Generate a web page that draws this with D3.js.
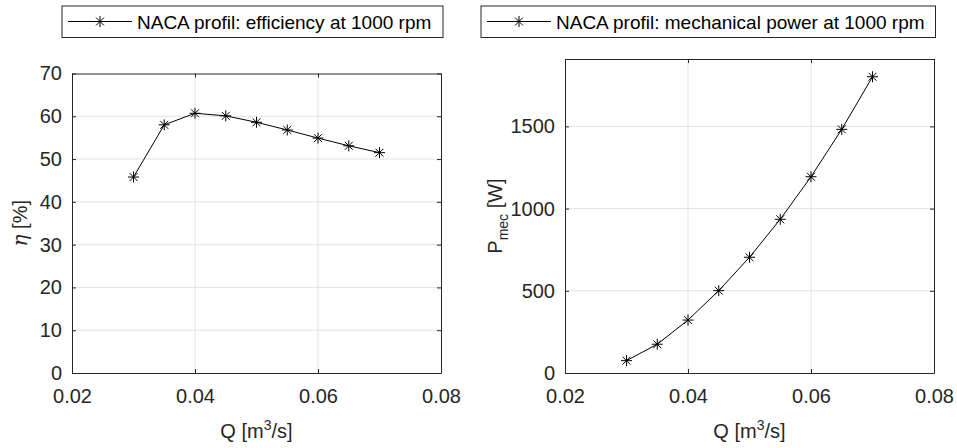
<!DOCTYPE html>
<html>
<head>
<meta charset="utf-8">
<script src="https://cdnjs.cloudflare.com/ajax/libs/d3/7.8.5/d3.min.js"></script>
<style>
  html, body { margin: 0; padding: 0; background: #fff; }
  svg { display: block; font-family: "Liberation Sans", Arial, sans-serif; }
</style>
</head>
<body>
<div id="chart"></div>
<script>
// flow rate Q [m^3/s]
const flowRate = [0.03, 0.035, 0.04, 0.045, 0.05, 0.055, 0.06, 0.065, 0.07];
// efficiency [%]
const efficiency = [45.8, 58.0, 60.7, 60.1, 58.6, 56.8, 54.9, 53.1, 51.5];
// mechanical power [W]
const mechPower = [75, 175, 322, 501, 704, 935, 1194, 1482, 1802];

const xTicks = [0.02, 0.04, 0.06, 0.08];
const etaTicks = [0, 10, 20, 30, 40, 50, 60, 70];
const powerTicks = [0, 500, 1000, 1500];

const legendLabels = [
  "NACA profil: efficiency at 1000 rpm",
  "NACA profil: mechanical power at 1000 rpm"
];

const W = 957, H = 448;
const ink = "#262626";

const svg = d3.select("#chart").append("svg")
  .attr("width", W).attr("height", H);

function asterisk(g, x, y, r) {
  const d = r * 0.72;
  const p = d3.path();
  p.moveTo(x - r, y); p.lineTo(x + r, y);
  p.moveTo(x, y - r); p.lineTo(x, y + r);
  p.moveTo(x - d, y - d); p.lineTo(x + d, y + d);
  p.moveTo(x - d, y + d); p.lineTo(x + d, y - d);
  g.append("path").attr("d", p.toString())
    .attr("stroke", "#000").attr("stroke-width", 1).attr("fill", "none");
}

function panel(opts) {
  const { left, right, top, bottom, yMax, yTicks, values, legend, yLabel } = opts;

  const x = d3.scaleLinear().domain([0.02, 0.08]).range([left, right]);
  const y = d3.scaleLinear().domain([0, yMax]).range([bottom, top]);
  const g = svg.append("g");

  // grid
  g.append("g").selectAll("line").data(xTicks.slice(1, -1)).join("line")
    .attr("x1", d => x(d)).attr("x2", d => x(d))
    .attr("y1", top).attr("y2", bottom)
    .attr("stroke", "#e3e3e3").attr("stroke-width", 1);
  g.append("g").selectAll("line").data(yTicks.filter(t => t > 0 && t < yMax)).join("line")
    .attr("x1", left).attr("x2", right)
    .attr("y1", d => y(d)).attr("y2", d => y(d))
    .attr("stroke", "#e3e3e3").attr("stroke-width", 1);

  // axes (ticks inward, box on)
  const tl = 4;
  const xb = d3.axisBottom(x).tickValues(xTicks).tickSizeInner(-tl).tickSizeOuter(0)
    .tickPadding(16).tickFormat(d3.format(".2f"));
  const xt = d3.axisTop(x).tickValues(xTicks).tickSizeInner(-tl).tickSizeOuter(0).tickFormat("");
  const yl = d3.axisLeft(y).tickValues(yTicks).tickSizeInner(-tl).tickSizeOuter(0)
    .tickPadding(10).tickFormat(d3.format("d"));
  const yr = d3.axisRight(y).tickValues(yTicks).tickSizeInner(-tl).tickSizeOuter(0).tickFormat("");

  [[xb, `translate(0,${bottom})`], [xt, `translate(0,${top})`],
   [yl, `translate(${left},0)`], [yr, `translate(${right},0)`]].forEach(([ax, tr]) => {
    const a = g.append("g").attr("transform", tr).call(ax);
    a.select(".domain").attr("stroke", ink).attr("stroke-width", 1);
    a.selectAll(".tick line").attr("stroke", ink);
    a.selectAll("text").attr("fill", ink).attr("font-size", 20)
      .attr("font-family", "Liberation Sans, Arial, sans-serif");
  });

  // line + markers
  const pts = flowRate.map((q, i) => [x(q), y(values[i])]);
  g.append("path").attr("d", d3.line()(pts))
    .attr("fill", "none").attr("stroke", "#000").attr("stroke-width", 1);
  pts.forEach(p => asterisk(g, p[0], p[1], 5.5));

  // x label
  const xl = g.append("text").attr("x", (left + right) / 2).attr("y", 438)
    .attr("text-anchor", "middle").attr("font-size", 20).attr("fill", ink);
  xl.append("tspan").text("Q [m");
  xl.append("tspan").attr("dy", -8).attr("font-size", 14).text("3");
  xl.append("tspan").attr("dy", 8).text("/s]");

  // y label
  yLabel(g, (top + bottom) / 2);

  // legend
  const lg = g.append("g");
  lg.append("rect").attr("x", legend.x0).attr("y", 6)
    .attr("width", legend.x1 - legend.x0).attr("height", 31.5)
    .attr("fill", "#fff").attr("stroke", ink).attr("stroke-width", 1);
  lg.append("line").attr("x1", legend.x0 + 6).attr("x2", legend.x0 + 70)
    .attr("y1", 21.5).attr("y2", 21.5).attr("stroke", "#000").attr("stroke-width", 1);
  asterisk(lg, legend.x0 + 38, 21.5, 5.5);
  lg.append("text").attr("x", legend.x0 + 75).attr("y", 29)
    .attr("font-size", 19).attr("fill", "#000").text(legend.label);
}

panel({
  left: 72, right: 441, top: 73.5, bottom: 373,
  yMax: 70, yTicks: etaTicks, values: efficiency,
  legend: { x0: 62, x1: 443, label: legendLabels[0] },
  yLabel: (g, cy) => {
    const t = g.append("text").attr("transform", `translate(27,${cy}) rotate(-90)`)
      .attr("text-anchor", "middle").attr("font-size", 20).attr("fill", ink);
    t.append("tspan").attr("font-family", "DejaVu Serif, serif").attr("font-style", "italic")
      .attr("font-size", 20).text("η");
    t.append("tspan").text(" [%]");
  }
});

panel({
  left: 565, right: 934, top: 59, bottom: 373,
  yMax: 1910, yTicks: powerTicks, values: mechPower,
  legend: { x0: 481, x1: 935.5, label: legendLabels[1] },
  yLabel: (g, cy) => {
    const t = g.append("text").attr("transform", `translate(502,${cy}) rotate(-90)`)
      .attr("text-anchor", "middle").attr("font-size", 20).attr("fill", ink);
    t.append("tspan").text("P");
    t.append("tspan").attr("dy", 6).attr("font-size", 14).text("mec");
    t.append("tspan").attr("dy", -6).text(" [W]");
  }
});
</script>
</body>
</html>
